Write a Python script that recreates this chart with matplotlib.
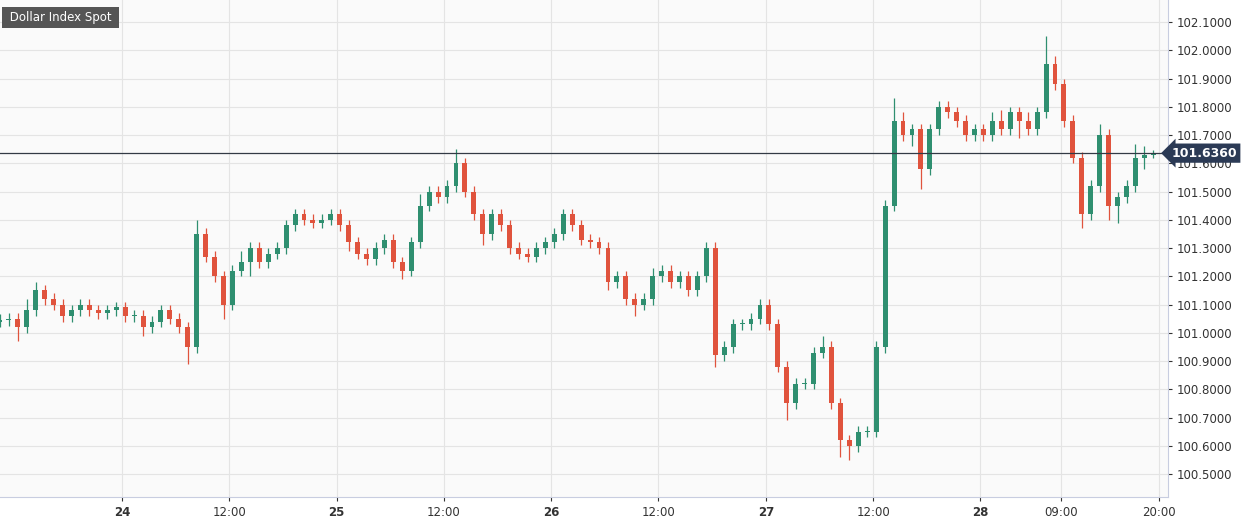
import matplotlib
matplotlib.use("Agg")
import matplotlib.pyplot as plt
import numpy as np

closes = [101.045,101.05,101.02,101.08,101.15,101.12,101.10,101.06,101.08,101.10,
          101.08,101.07,101.08,101.09,101.06,101.06,101.02,101.04,101.08,101.05,
          101.02,100.95,101.35,101.27,101.20,101.10,101.22,101.25,101.30,101.25,
          101.28,101.30,101.38,101.42,101.40,101.39,101.40,101.42,101.38,101.32,
          101.28,101.26,101.30,101.33,101.25,101.22,101.32,101.45,101.50,101.48,
          101.52,101.60,101.50,101.42,101.35,101.42,101.38,101.30,101.28,101.27,
          101.30,101.32,101.35,101.42,101.38,101.33,101.32,101.30,101.18,101.20,
          101.12,101.10,101.12,101.20,101.22,101.18,101.20,101.15,101.20,101.30,
          100.92,100.95,101.03,101.03,101.05,101.10,101.03,100.88,100.75,100.82,
          100.82,100.93,100.95,100.75,100.62,100.60,100.65,100.65,100.95,101.45,
          101.75,101.70,101.72,101.58,101.72,101.80,101.78,101.75,101.70,101.72,
          101.70,101.75,101.72,101.78,101.75,101.72,101.78,101.95,101.88,101.75,
          101.62,101.42,101.52,101.70,101.45,101.48,101.52,101.62,101.63,101.636]
upper = [0.02,0.02,0.02,0.04,0.03,0.02,0.02,0.02,0.02,0.02,
         0.02,0.02,0.02,0.02,0.02,0.02,0.02,0.02,0.02,0.02,
         0.02,0.02,0.05,0.02,0.02,0.02,0.02,0.04,0.02,0.02,
         0.02,0.02,0.02,0.02,0.02,0.02,0.02,0.02,0.02,0.02,
         0.02,0.02,0.02,0.02,0.02,0.02,0.02,0.04,0.02,0.02,
         0.02,0.05,0.02,0.02,0.02,0.02,0.02,0.02,0.02,0.02,
         0.02,0.02,0.02,0.02,0.02,0.02,0.02,0.02,0.02,0.02,
         0.02,0.02,0.02,0.03,0.02,0.02,0.02,0.02,0.02,0.02,
         0.02,0.02,0.02,0.02,0.02,0.02,0.02,0.02,0.02,0.02,
         0.02,0.02,0.04,0.02,0.02,0.02,0.02,0.02,0.02,0.02,
         0.08,0.03,0.02,0.02,0.02,0.02,0.02,0.02,0.02,0.02,
         0.02,0.03,0.04,0.02,0.02,0.03,0.02,0.10,0.03,0.02,
         0.02,0.02,0.02,0.04,0.02,0.02,0.02,0.05,0.03,0.01]
lower = [0.02,0.02,0.05,0.02,0.02,0.02,0.02,0.02,0.02,0.02,
         0.02,0.02,0.02,0.02,0.02,0.02,0.03,0.02,0.02,0.02,
         0.02,0.06,0.02,0.02,0.02,0.05,0.02,0.02,0.05,0.02,
         0.02,0.02,0.02,0.02,0.02,0.02,0.02,0.02,0.02,0.03,
         0.02,0.02,0.02,0.02,0.02,0.03,0.02,0.02,0.02,0.02,
         0.02,0.02,0.02,0.02,0.04,0.02,0.02,0.02,0.02,0.02,
         0.02,0.02,0.02,0.02,0.02,0.02,0.02,0.02,0.03,0.02,
         0.02,0.04,0.02,0.02,0.02,0.02,0.02,0.02,0.02,0.02,
         0.04,0.02,0.02,0.02,0.02,0.02,0.02,0.02,0.06,0.02,
         0.02,0.02,0.02,0.02,0.06,0.05,0.02,0.02,0.02,0.02,
         0.02,0.02,0.04,0.07,0.02,0.02,0.02,0.02,0.02,0.02,
         0.02,0.02,0.02,0.02,0.06,0.02,0.02,0.02,0.02,0.02,
         0.02,0.05,0.02,0.02,0.05,0.06,0.02,0.02,0.04,0.01]
start_open = 101.04
last_price = 101.636
tick_pos = [13.65,25.65,37.65,49.65,61.65,73.65,85.65,97.65,109.65,118.65,129.65]
tick_labels = ["24","12:00","25","12:00","26","12:00","27","12:00","28","09:00","20:00"]
ytick_vals = np.round(np.arange(100.5, 102.1001, 0.1), 1)

up_c, dn_c = "#2f8f70", "#e0533d"
fig = plt.figure(figsize=(12.44, 5.24), dpi=100)
fig.patch.set_facecolor("white")
ax = fig.add_axes([0.0, 0.0515, 0.939, 0.9485])
ax.set_facecolor("#fafafa")
opens = [start_open] + closes[:-1]
for i, (o, c) in enumerate(zip(opens, closes)):
    col = up_c if c >= o else dn_c
    hi = max(o, c) + upper[i]; lo = min(o, c) - lower[i]
    ax.vlines(i, lo, hi, color=col, lw=0.9, zorder=3)
    ax.bar(i, max(abs(c - o), 0.004), bottom=min(o, c), width=0.55, color=col, zorder=4)
ax.set_xlim(0.0, 130.65)
ax.set_ylim(100.419, 102.178)
ax.set_xticks(tick_pos); ax.set_xticklabels(tick_labels)
for lab, t in zip(ax.get_xticklabels(), tick_labels):
    if ":" not in t: lab.set_fontweight("bold")
ax.set_yticks(ytick_vals)
ax.set_yticklabels([f"{v:.4f}" for v in ytick_vals])
ax.yaxis.tick_right()
ax.tick_params(axis="both", labelsize=8.5, colors="#333333", length=3)
ax.grid(True, color="#e4e4e4", lw=0.8, zorder=0)
for s in ["top", "left"]:
    ax.spines[s].set_visible(False)
for s in ["right", "bottom"]:
    ax.spines[s].set_color("#c8cde0")
ax.axhline(last_price, color="#333a45", lw=0.9, zorder=5)
ax.text(1.003, last_price, f"{last_price:.4f}", transform=ax.get_yaxis_transform(),
        va="center", ha="left", fontsize=9, fontweight="bold", color="white",
        bbox=dict(boxstyle="larrow,pad=0.25", fc="#2b3a55", ec="none"), zorder=6)
ax.text(0.005, 0.965, " Dollar Index Spot ", transform=ax.transAxes, fontsize=8.5,
        color="white", va="center", ha="left",
        bbox=dict(boxstyle="square,pad=0.35", fc="#555555", ec="none"), zorder=6)
fig.savefig("out.png", dpi=100)
